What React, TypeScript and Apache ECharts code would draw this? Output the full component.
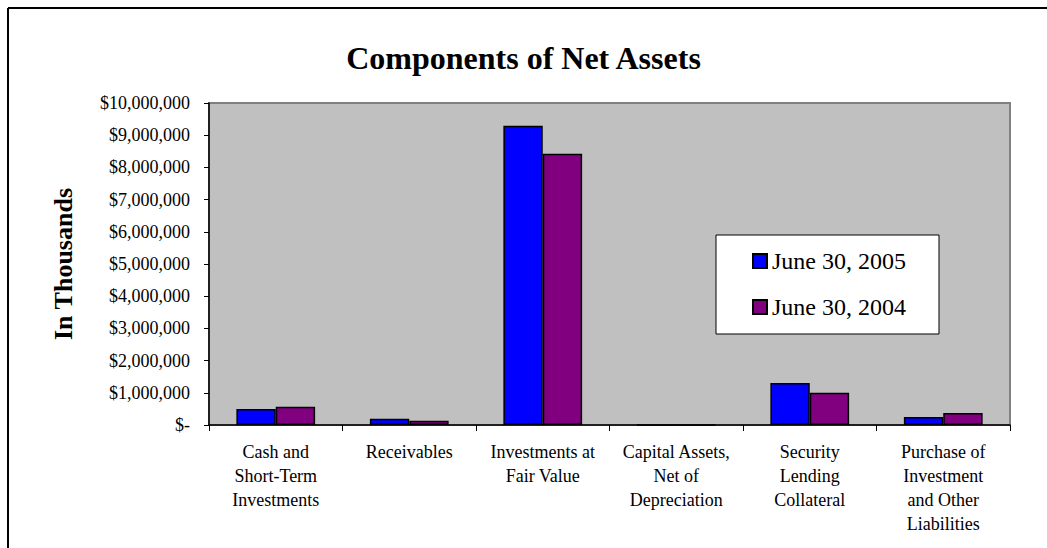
import React, { useEffect, useRef } from "react";
import * as echarts from "echarts";

const categories = [
  "Cash and\nShort-Term\nInvestments",
  "Receivables",
  "Investments at\nFair Value",
  "Capital Assets,\nNet of\nDepreciation",
  "Security\nLending\nCollateral",
  "Purchase of\nInvestment\nand Other\nLiabilities",
];
const june2005 = [500000, 196000, 9295000, 3000, 1304000, 250000];
const june2004 = [570000, 134000, 8425000, 2500, 1003000, 373000];
const seriesNames = ["June 30, 2005", "June 30, 2004"];
const titleText = "Components of Net Assets";
const yAxisTitle = "In Thousands";

const FONT = "'Liberation Serif', 'Times New Roman', serif";

export default function App() {
  const ref = useRef<HTMLDivElement>(null);
  useEffect(() => {
    if (!ref.current) return;
    const chart = echarts.init(ref.current, undefined, { renderer: "svg" });
    chart.setOption({
      animation: false,
      textStyle: { fontFamily: FONT, color: "#000" },
      title: {
        text: titleText,
        left: "center",
        top: 37,
        textStyle: { fontFamily: FONT, fontSize: 32, fontWeight: "bold", color: "#000" },
      },
      graphic: [
        {
          type: "line",
          silent: true,
          shape: { x1: 8, y1: 8, x2: 1047, y2: 8 },
          style: { stroke: "#000", lineWidth: 2 },
        },
        {
          type: "line",
          silent: true,
          shape: { x1: 8, y1: 8, x2: 8, y2: 548 },
          style: { stroke: "#000", lineWidth: 2 },
        },
      ],
      grid: {
        left: 209,
        right: 37,
        top: 103,
        bottom: 123,
        show: true,
        backgroundColor: "#c0c0c0",
        borderColor: "#808080",
        borderWidth: 2,
      },
      legend: {
        orient: "vertical",
        left: 716,
        top: 235,
        padding: [14, 33, 15, 36],
        itemWidth: 14,
        itemHeight: 14,
        itemGap: 22,
        icon: "rect",
        backgroundColor: "#fff",
        borderColor: "#000",
        borderWidth: 1,
        textStyle: { fontFamily: FONT, fontSize: 24, color: "#000" },
        data: seriesNames,
      },
      xAxis: {
        type: "category",
        data: categories,
        axisLine: { show: true, lineStyle: { color: "#000", width: 1.5 } },
        axisTick: { show: true, interval: 0, length: 6, alignWithLabel: false, lineStyle: { color: "#000" } },
        axisLabel: {
          interval: 0,
          fontFamily: FONT,
          fontSize: 18,
          lineHeight: 24,
          color: "#000",
          margin: 15,
          align: "center",
        },
        splitLine: { show: false },
      },
      yAxis: {
        type: "value",
        min: 0,
        max: 10000000,
        interval: 1000000,
        name: yAxisTitle,
        nameLocation: "middle",
        nameGap: 133,
        nameTextStyle: { fontFamily: FONT, fontSize: 26, fontWeight: "bold", color: "#000" },
        axisLine: { show: true, lineStyle: { color: "#000", width: 1.5 } },
        axisTick: { show: true, length: 5, lineStyle: { color: "#000" } },
        axisLabel: {
          fontFamily: FONT,
          fontSize: 18,
          color: "#000",
          margin: 19,
          formatter: (v: number) => (v === 0 ? "$-" : "$" + v.toLocaleString("en-US")),
        },
        splitLine: { show: false },
      },
      series: [
        {
          name: seriesNames[0],
          type: "bar",
          data: june2005,
          barGap: "0%",
          barCategoryGap: "41%",
          itemStyle: { color: "#0000ff", borderColor: "#000", borderWidth: 1.5 },
        },
        {
          name: seriesNames[1],
          type: "bar",
          data: june2004,
          barGap: "0%",
          barCategoryGap: "41%",
          itemStyle: { color: "#800080", borderColor: "#000", borderWidth: 1.5 },
        },
      ],
    });
    return () => chart.dispose();
  }, []);
  return (
    <div
      ref={ref}
      style={{ position: "fixed", left: 0, top: 0, width: 1047, height: 548, background: "#fff" }}
    />
  );
}
